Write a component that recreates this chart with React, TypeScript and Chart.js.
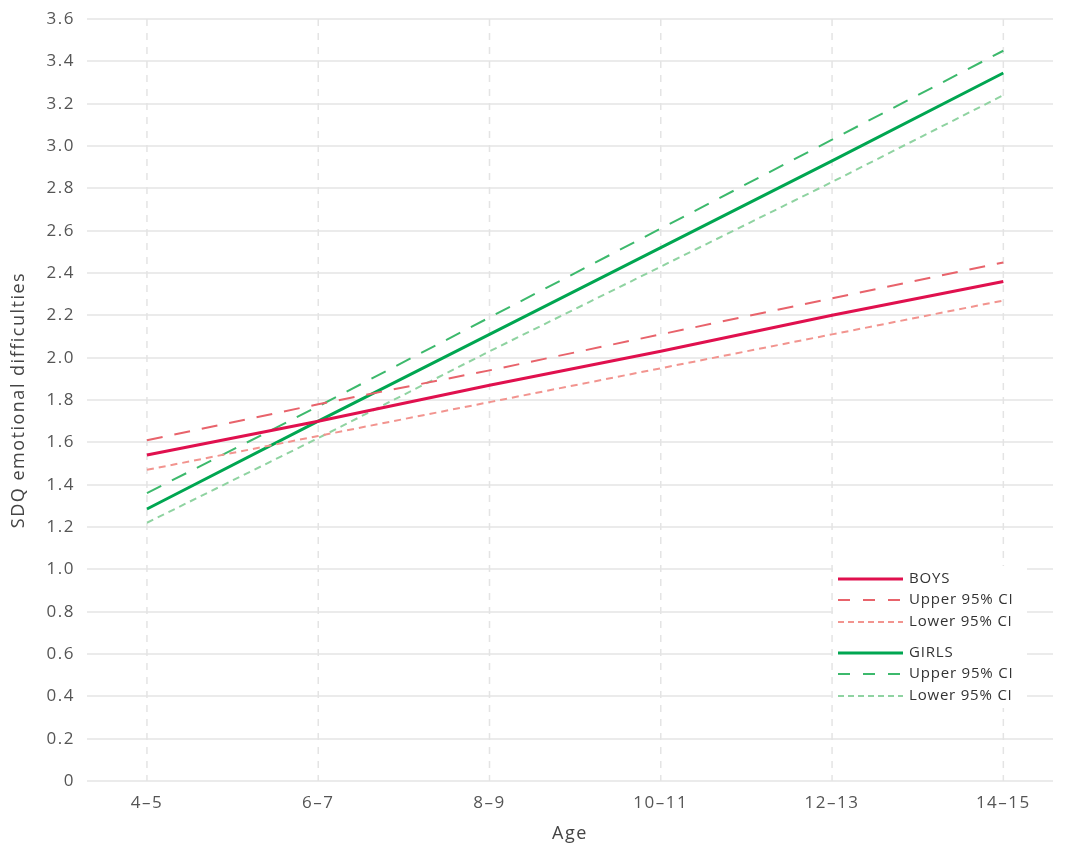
import React, { useEffect, useRef } from "react";
import { Chart, registerables } from "chart.js";

Chart.register(...registerables);

const ageGroups = ["4–5", "6–7", "8–9", "10–11", "12–13", "14–15"];
const boys = [1.54, 1.70, 1.87, 2.03, 2.20, 2.36];
const boysUpper = [1.61, 1.78, 1.94, 2.11, 2.28, 2.45];
const boysLower = [1.47, 1.63, 1.79, 1.95, 2.11, 2.27];
const girls = [1.285, 1.70, 2.11, 2.52, 2.93, 3.345];
const girlsUpper = [1.36, 1.77, 2.19, 2.61, 3.03, 3.45];
const girlsLower = [1.22, 1.62, 2.03, 2.43, 2.83, 3.24];
const yTicks = [0, 0.2, 0.4, 0.6, 0.8, 1.0, 1.2, 1.4, 1.6, 1.8, 2.0, 2.2, 2.4, 2.6, 2.8, 3.0, 3.2, 3.4, 3.6];

const FONT = "'Open Sans', Lato, sans-serif";

const seriesDefs = [
  { label: "BOYS", data: boys, color: "#e0104e", width: 3, dash: [] as number[] },
  { label: "Upper 95% CI", data: boysUpper, color: "#e8636b", width: 2, dash: [16, 12] },
  { label: "Lower 95% CI", data: boysLower, color: "#f2948f", width: 2, dash: [7, 5] },
  { label: "GIRLS", data: girls, color: "#00a651", width: 3, dash: [] as number[] },
  { label: "Upper 95% CI", data: girlsUpper, color: "#3cb96c", width: 2, dash: [16, 12] },
  { label: "Lower 95% CI", data: girlsLower, color: "#8fd3a1", width: 2, dash: [7, 5] },
];

const spacingPlugin = {
  id: "letterSpacing",
  beforeDraw(chart: any) {
    const ctx = chart.ctx as any;
    if ("letterSpacing" in ctx) ctx.letterSpacing = "1.5px";
  },
};

const legendPlugin = {
  id: "customLegend",
  afterDraw(chart: any) {
    const ctx = chart.ctx as any;
    ctx.save();
    if ("letterSpacing" in ctx) ctx.letterSpacing = "0.8px";
    ctx.fillStyle = "#ffffff";
    ctx.fillRect(833, 566, 194, 142);
    const rows = [579, 600, 622, 653, 674, 696];
    seriesDefs.forEach((s, i) => {
      const y = rows[i];
      ctx.beginPath();
      ctx.strokeStyle = s.color;
      ctx.lineWidth = s.width;
      ctx.setLineDash(s.dash.length ? (s.dash[0] > 10 ? [12, 13] : [6, 4]) : []);
      ctx.moveTo(838, y);
      ctx.lineTo(903, y);
      ctx.stroke();
      ctx.setLineDash([]);
      ctx.fillStyle = "#333333";
      ctx.font = `15px ${FONT}`;
      ctx.textBaseline = "middle";
      ctx.textAlign = "left";
      ctx.fillText(s.label, 909, y);
    });
    ctx.restore();
  },
};

export default function App() {
  const ref = useRef<HTMLCanvasElement | null>(null);
  useEffect(() => {
    document.body.style.margin = "0";
    const canvas = ref.current;
    if (!canvas) return;
    const chart = new Chart(canvas, {
      type: "line",
      data: {
        datasets: seriesDefs.map((s) => ({
          label: s.label,
          data: s.data.map((v, i) => ({ x: i, y: v })),
          borderColor: s.color,
          borderWidth: s.width,
          borderDash: s.dash,
          pointRadius: 0,
          fill: false,
          tension: 0,
        })),
      },
      options: {
        animation: false,
        responsive: false,
        maintainAspectRatio: false,
        layout: { padding: { top: 19, right: 17, left: 0, bottom: 0 } },
        plugins: { legend: { display: false }, tooltip: { enabled: false } },
        scales: {
          x: {
            type: "linear",
            min: -0.35,
            max: 5.29,
            afterBuildTicks: (scale: any) => {
              scale.ticks = ageGroups.map((_, i) => ({ value: i }));
            },
            afterFit: (scale: any) => {
              scale.height = 64;
              scale.paddingLeft = 0;
              scale.paddingRight = 0;
            },
            ticks: {
              callback: (v: any) => ageGroups[v as number] ?? "",
              color: "#555555",
              font: { family: FONT, size: 17 },
              padding: 4,
              maxRotation: 0,
              autoSkip: false,
            },
            grid: { display: false },
            border: { display: false },
            title: {
              display: true,
              text: "Age",
              color: "#444444",
              font: { family: FONT, size: 18 },
              padding: { top: 2, bottom: 0 },
            },
          },
          y: {
            min: 0,
            max: 3.6,
            afterBuildTicks: (scale: any) => {
              scale.ticks = yTicks.map((v) => ({ value: v }));
            },
            afterFit: (scale: any) => {
              scale.width = 87;
              scale.paddingTop = 0;
              scale.paddingBottom = 0;
            },
            ticks: {
              callback: (v: any) => (v === 0 ? "0" : Number(v).toFixed(1)),
              color: "#555555",
              font: { family: FONT, size: 17 },
              padding: 12,
            },
            grid: { color: "#ebebeb", lineWidth: 2, drawTicks: false },
            border: { display: false },
            title: {
              display: true,
              text: "SDQ emotional difficulties",
              color: "#444444",
              font: { family: FONT, size: 18 },
              padding: { top: 8, bottom: 0 },
            },
          },
        },
      },
      plugins: [
        spacingPlugin,
        {
          id: "vgrid",
          beforeDatasetsDraw(chart: any) {
            const { ctx, chartArea, scales } = chart;
            ctx.save();
            ctx.strokeStyle = "#e4e4e4";
            ctx.lineWidth = 1.5;
            ctx.setLineDash([7, 7]);
            ageGroups.forEach((_, i) => {
              const x = scales.x.getPixelForValue(i);
              ctx.beginPath();
              ctx.moveTo(x, chartArea.top);
              ctx.lineTo(x, chartArea.bottom);
              ctx.stroke();
            });
            ctx.restore();
          },
        },
        legendPlugin,
      ],
    } as any);
    return () => chart.destroy();
  }, []);
  return (
    <div style={{ width: 1070, height: 845 }}>
      <canvas ref={ref} width={1070} height={845} style={{ display: "block" }} />
    </div>
  );
}
